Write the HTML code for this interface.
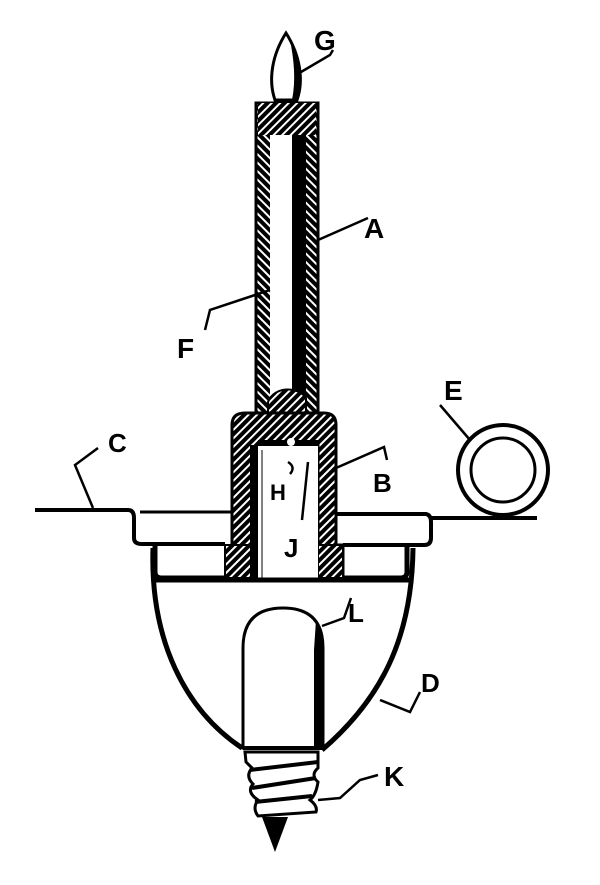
<!DOCTYPE html>
<html><head><meta charset="utf-8"><style>
html,body{margin:0;padding:0;background:#fff;}
svg{display:block;}
text{font-family:"Liberation Sans",sans-serif;font-weight:bold;fill:#000;}
</style></head><body>
<svg width="600" height="885" viewBox="0 0 600 885" xmlns="http://www.w3.org/2000/svg">
<defs>
<pattern id="h" patternUnits="userSpaceOnUse" width="6" height="6" patternTransform="rotate(45)">
<rect width="6" height="6" fill="#000"/><rect x="0" y="0" width="2" height="6" fill="#fff"/>
</pattern>
<pattern id="h2" patternUnits="userSpaceOnUse" width="6" height="6" patternTransform="rotate(-45)">
<rect width="6" height="6" fill="#000"/><rect x="0" y="0" width="2" height="6" fill="#fff"/>
</pattern>
</defs>

<!-- flame G -->
<path d="M286 33 C272 55 268 80 275 100 L297 100 C304 80 300 55 286 33 Z" fill="#fff" stroke="#000" stroke-width="3"/>
<path d="M290 40 C300 60 302 82 296 100 L292 100 C296 80 294 60 290 40Z" fill="#000"/>

<!-- candle tube A -->
<rect x="256" y="103" width="62" height="318" fill="url(#h2)" stroke="#000" stroke-width="3"/>
<rect x="258" y="103" width="58" height="32" fill="url(#h)"/>
<rect x="270" y="135" width="22" height="262" fill="#fff"/>
<rect x="292" y="135" width="14" height="262" fill="#000"/>
<path d="M268 418 L268 402 C274 386 298 386 306 398 L306 418 Z" fill="url(#h)" stroke="#000" stroke-width="2"/>

<!-- plate C -->
<path d="M35 510 L128 510 Q134 510 134 518 L134 538 Q134 544 142 544 L225 544" fill="none" stroke="#000" stroke-width="4"/>
<path d="M140 512 L232 512" fill="none" stroke="#000" stroke-width="3"/>
<path d="M431 518 L537 518" fill="none" stroke="#000" stroke-width="4"/>
<path d="M336 514 L426 514 Q431 515 431 522 L431 538 Q431 545 424 545 L343 545" fill="none" stroke="#000" stroke-width="4"/>

<!-- lower rim boxes -->
<path d="M155 544 L155 572 Q155 578 162 578 L225 578" fill="none" stroke="#000" stroke-width="5"/>
<path d="M407 545 L407 572 Q407 578 400 578 L343 578" fill="none" stroke="#000" stroke-width="5"/>

<!-- holder B -->
<path d="M232 578 L232 425 Q232 413 245 413 L324 413 Q336 413 336 425 L336 545 L343 545 L343 578 L318 578 L318 445 L258 445 L258 545 L258 578 Z" fill="url(#h)" stroke="#000" stroke-width="3"/>
<rect x="225" y="545" width="33" height="33" fill="url(#h)" stroke="#000" stroke-width="2"/>
<rect x="318" y="545" width="25" height="33" fill="url(#h)" stroke="#000" stroke-width="2"/>
<rect x="250" y="445" width="10" height="133" fill="#000"/>
<rect x="258" y="445" width="60" height="133" fill="#fff"/>
<rect x="258" y="440" width="60" height="6" fill="#000"/>
<circle cx="291" cy="442" r="4" fill="#fff"/>
<line x1="262" y1="450" x2="262" y2="578" stroke="#000" stroke-width="1"/>

<!-- bowl D -->
<line x1="152" y1="580" x2="412" y2="580" stroke="#000" stroke-width="5"/>
<path d="M153 548 C150 640 185 710 242 748" fill="none" stroke="#000" stroke-width="5"/>
<path d="M413 548 C412 640 380 700 322 750" fill="none" stroke="#000" stroke-width="5"/>

<!-- bulb L -->
<path d="M243 748 L243 648 Q243 608 283 608 Q323 608 323 648 L323 748 Z" fill="#fff" stroke="#000" stroke-width="3"/>
<path d="M316 620 Q322 632 322 648 L322 748 L314 748 L314 650 Z" fill="#000"/>
<line x1="243" y1="748" x2="323" y2="748" stroke="#000" stroke-width="4"/>

<!-- screw base K -->
<path d="M245 752 L318 752 L318 768 Q310 775 318 782 Q316 795 310 800 Q318 806 316 812 L258 816 Q252 808 258 800 Q246 792 253 784 Q245 776 252 768 L246 762 Z" fill="#fff" stroke="#000" stroke-width="3"/>
<path d="M250 770 L318 762 M252 788 L316 778 M255 802 L312 796" stroke="#000" stroke-width="4" fill="none"/>
<path d="M262 817 L288 817 L275 852 Z" fill="#000"/>

<!-- ring E -->
<circle cx="503" cy="470" r="45" fill="#fff" stroke="#000" stroke-width="4"/>
<circle cx="503" cy="470" r="32" fill="#fff" stroke="#000" stroke-width="3"/>

<!-- leader lines -->
<g fill="none" stroke="#000" stroke-width="2.5">
<path d="M301 72 Q318 62 330 55 L333 50"/>
<path d="M318 240 L368 218"/>
<path d="M205 330 L210 310 L270 290"/>
<path d="M470 440 L440 405"/>
<path d="M93 508 L75 465 L98 448"/>
<path d="M336 468 L384 447 L387 460"/>
<path d="M288 462 Q296 467 290 474"/>
<path d="M302 520 L308 462"/>
<path d="M322 626 L344 618 L351 598"/>
<path d="M380 700 L410 712 L420 692"/>
<path d="M318 800 L340 798 L360 780 L378 775"/>
</g>

<!-- labels -->
<text x="314" y="50" font-size="28">G</text>
<text x="364" y="238" font-size="28">A</text>
<text x="177" y="358" font-size="28">F</text>
<text x="444" y="400" font-size="28">E</text>
<text x="108" y="452" font-size="26">C</text>
<text x="373" y="492" font-size="26">B</text>
<text x="270" y="500" font-size="22">H</text>
<text x="284" y="557" font-size="26">J</text>
<text x="348" y="622" font-size="26">L</text>
<text x="421" y="692" font-size="26">D</text>
<text x="384" y="786" font-size="28">K</text>
</svg>
</body></html>
